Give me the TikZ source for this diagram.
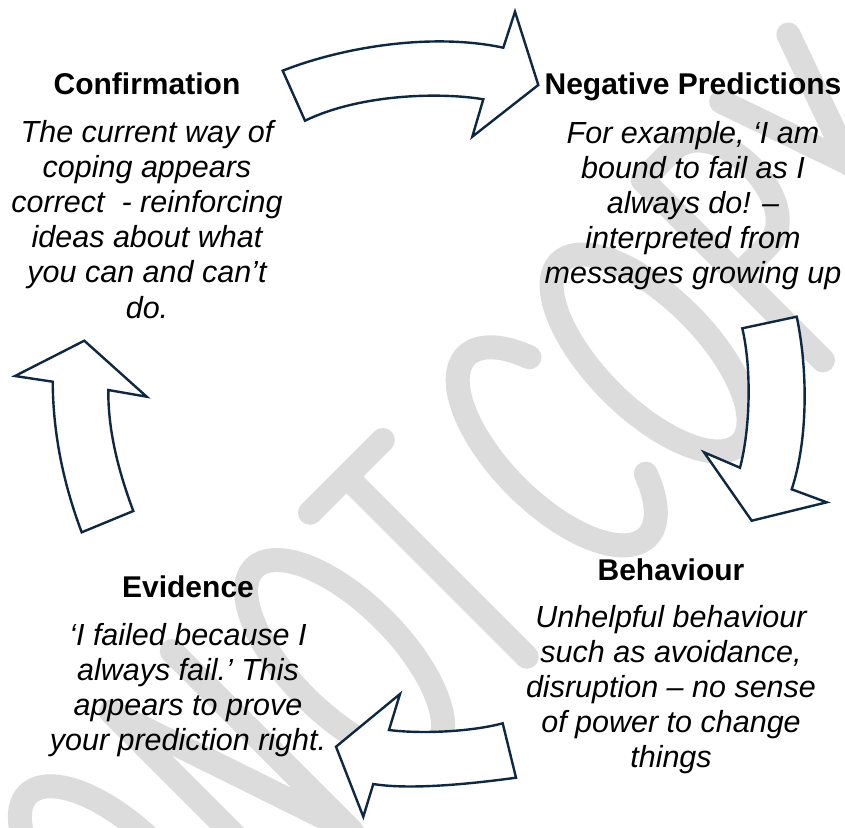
\documentclass[tikz,border=0pt]{standalone}
\usepackage{fontspec}
\setmainfont{Liberation Sans}
\definecolor{navy}{HTML}{0E2841}
\definecolor{wm}{HTML}{DCDCDC}
\begin{document}
\begin{tikzpicture}[x=1pt,y=-1pt,
  arrowshape/.style={draw=navy, fill=white, line width=2.4pt, line join=miter},
  heading/.style={anchor=base, font=\bfseries\fontsize{30}{36}\selectfont, inner sep=0pt},
  body/.style={anchor=base, font=\itshape\fontsize{30.5}{36}\selectfont, inner sep=0pt},
  wmstroke/.style={draw=wm, line width=24pt, line cap=round, line join=round}]
\useasboundingbox (0,0) rectangle (845,827);
\fill[white] (0,0) rectangle (845,827);
% watermark "DO NOT COPY"
\begin{scope}
\clip (0,0) rectangle (845,827);
\begin{scope}[shift={(526.7,656.7)}, rotate=45]
  % D
  \draw[wmstroke] (-600,0) -- (-600,-255) -- (-575,-255) .. controls (-495,-255) and (-495,0) .. (-575,0) -- cycle;
  % O
  \draw[wmstroke] plot[domain=0:360, samples=60, smooth] ({-450+55*cos(\x)}, {-127.5-128*sin(\x)});
  % N
  \draw[wmstroke] (-333,0) -- (-333,-255) -- (-247,0) -- (-247,-255);
  % O
  \draw[wmstroke] plot[domain=0:360, samples=60, smooth] ({-130+55*cos(\x)}, {-127.5-128*sin(\x)});
  % T
  \draw[wmstroke] (-51.5,-255) -- (51.5,-255) (0,-255) -- (0,0);
  % C
  \draw[wmstroke] plot[domain=40:320, samples=50, smooth] ({170+57*cos(\x)}, {-127.5-128*sin(\x)});
  % O
  \draw[wmstroke] plot[domain=0:360, samples=60, smooth] ({302+55*cos(\x)}, {-127.5-128*sin(\x)});
  % P
  \draw[wmstroke] (419,0) -- (419,-255) -- (460,-255) .. controls (520,-255) and (520,-120) .. (460,-120) -- (419,-120);
  % Y
  \draw[wmstroke] (530,-255) -- (577,-120) -- (625,-255) (577,-120) -- (577,0);
\end{scope}
\end{scope}

% arrows
\draw[arrowshape] (282.7,70.7) coordinate (a1t)
  .. controls (340,48) and (430,32) .. (503.3,47.7)
  -- (515,11.7) -- (538.3,85) coordinate (a1tip) -- (472.3,136.7) -- (483.3,99.3)
  .. controls (440,92) and (360,94) .. (305,120.7) -- cycle;

\draw[arrowshape] (742.3,328.3) coordinate (a2t) -- (796.7,316.7)
  .. controls (808,370) and (808,440) .. (791.7,489.3)
  -- (826.7,502.3) -- (751.7,520.7) coordinate (a2tip) -- (704,452.3) -- (740,467.7)
  .. controls (750,430) and (752,370) .. (742.3,328.3) -- cycle;

\draw[arrowshape] (502.7,723.3) coordinate (a3t) -- (516,777.7)
  .. controls (470,784) and (410,790) .. (373.3,784)
  -- (363.3,816.7) -- (336,746.7) coordinate (a3tip) -- (400,694) -- (389,730)
  .. controls (420,734) and (470,732) .. (502.7,723.3) -- cycle;

\draw[arrowshape] (81.7,532.3) coordinate (a4t) -- (133.3,511)
  .. controls (118,470) and (108,430) .. (108.3,390)
  -- (146.7,396.7) -- (84.3,340.7) coordinate (a4tip) -- (15,376) -- (52.7,381.7)
  .. controls (53,430) and (62,480) .. (81.7,532.3) -- cycle;

% Confirmation
\node[heading] (conf) at (147,94) {Confirmation};
\foreach \t [count=\i from 0] in {The current way of, coping appears, {correct\ \ - reinforcing}, ideas about what, {you can and can’t}, do.}
  \node[body] (conf-\i) at (147,142+35.2*\i) {\t};

% Negative Predictions
\node[heading] (neg) at (693,94) {Negative Predictions};
\foreach \t [count=\i from 0] in {{For example, ‘I am}, bound to fail as I, always do! –, interpreted from, messages growing up}
  \node[body] (neg-\i) at (693,143+35.2*\i) {\t};

% Behaviour
\node[heading] (beh) at (671,580) {Behaviour};
\foreach \t [count=\i from 0] in {Unhelpful behaviour, {such as avoidance,}, disruption – no sense, of power to change, things}
  \node[body] (beh-\i) at (671,627+35.2*\i) {\t};

% Evidence
\node[heading] (evi) at (188,597) {Evidence};
\foreach \t [count=\i from 0] in {‘I failed because I, {always fail.’\kern-3pt{} This}, appears to prove, your prediction right.}
  \node[body] (evi-\i) at (188,645+35.2*\i) {\t};
\end{tikzpicture}
\end{document}
